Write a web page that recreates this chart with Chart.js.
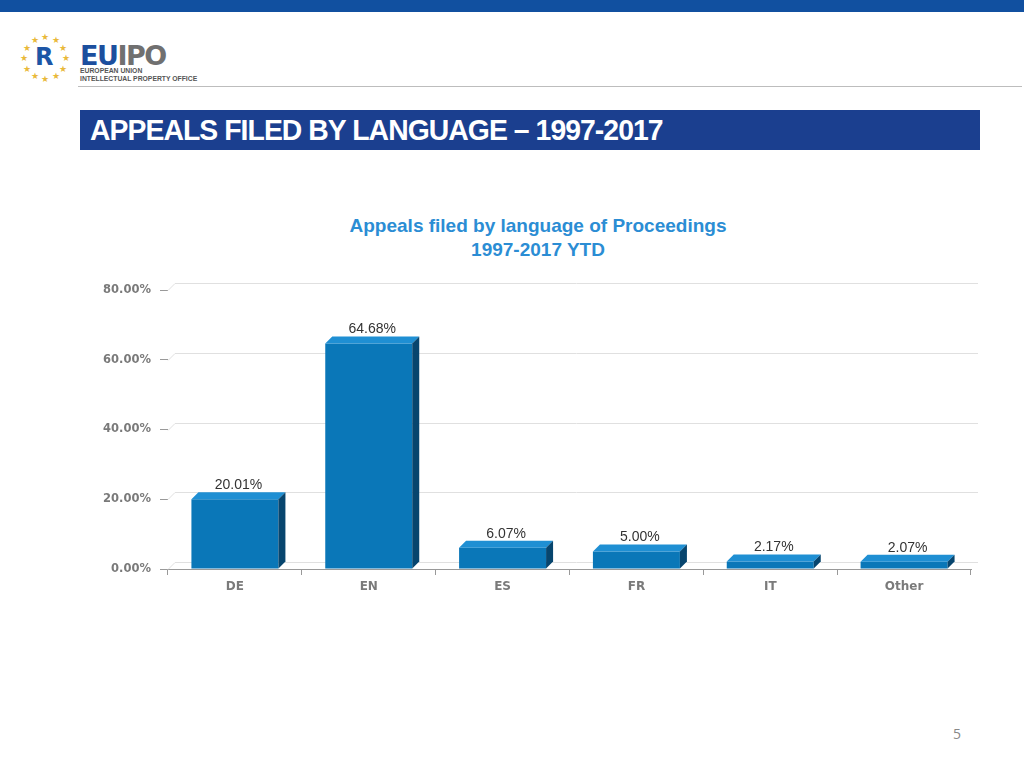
<!DOCTYPE html>
<html>
<head>
<meta charset="utf-8">
<script src="https://cdn.jsdelivr.net/npm/chart.js@4/dist/chart.umd.min.js"></script>
<style>
  body { margin: 0; width: 1024px; height: 768px; background: #fff; position: relative; overflow: hidden; font-family: "Liberation Sans", Arial, sans-serif; }
  #topband { position: absolute; left: 0; top: 0; width: 1024px; height: 12px; background: #1150a0; }
  #rule { position: absolute; left: 78px; top: 86px; width: 944px; height: 1px; background: #bdbdbd; }
  #stars { position: absolute; left: 20px; top: 33px; width: 50px; height: 50px; }
  #stars span { position: absolute; color: #e9b93a; font-size: 9px; line-height: 9px; }
  #rbox { position: absolute; left: 35px; top: 46px; width: 20px; height: 22px; color: #1d56a6; font: 900 24px/22px "DejaVu Sans", sans-serif; }
  #eu { position: absolute; left: 80px; top: 42px; font: 900 27px/28px "DejaVu Sans", sans-serif; letter-spacing: -1.5px; }
  #eu .b { color: #1c4f9e; } #eu .g { color: #707070; }
  #sub { position: absolute; left: 80px; top: 67px; font: bold 6.8px/7.5px "Liberation Sans", Arial, sans-serif; color: #555; }
  #titlebar { position: absolute; left: 80px; top: 110px; width: 900px; height: 40px; background: #1b3f8f; }
  #titlebar span { position: absolute; left: 10px; top: 2px; color: #fff; font: bold 30px/35px "Liberation Sans", Arial, sans-serif; letter-spacing: -1px; white-space: nowrap; transform: scaleX(0.945); transform-origin: left center; }
  #ctitle { position: absolute; left: 238px; top: 214px; width: 600px; text-align: center; color: #2b8dd4; font: bold 19px/24px "Liberation Sans", Arial, sans-serif; }
  #page { position: absolute; left: 953px; top: 724px; color: #888; font: 14px "Open Sans", sans-serif; }
  #chart { position: absolute; left: 80px; top: 270px; }
</style>
</head>
<body>
<div id="topband"></div>
<div id="stars"></div>
<div id="rbox">R</div>
<div id="eu"><span class="b">EU</span><span class="g">IPO</span></div>
<div id="sub">EUROPEAN UNION<br>INTELLECTUAL PROPERTY OFFICE</div>
<div id="rule"></div>
<div id="titlebar"><span>APPEALS FILED BY LANGUAGE – 1997-2017</span></div>
<div id="ctitle">Appeals filed by language of Proceedings<br>1997-2017 YTD</div>
<canvas id="chart" width="920" height="340"></canvas>
<div id="page">5</div>
<script>
const languages = ['DE', 'EN', 'ES', 'FR', 'IT', 'Other'];
const appealShares = [20.01, 64.68, 6.07, 5.00, 2.17, 2.07];
const yTicks = [0, 20, 40, 60, 80];

// logo star ring
const starBox = document.getElementById('stars');
for (let i = 0; i < 12; i++) {
    const a = i / 12 * Math.PI * 2;
    const s = document.createElement('span');
    s.textContent = '★';
    s.style.left = (21 + Math.cos(a) * 21) + 'px';
    s.style.top = (21 + Math.sin(a) * 21) + 'px';
    starBox.appendChild(s);
}

const DEPTH = 7;

const fakeThreeD = {
    id: 'fakeThreeD',
    beforeDatasetsDraw(chart) {
        const { ctx, chartArea, scales } = chart;
        ctx.save();
        ctx.strokeStyle = '#e0e0e0';
        ctx.lineWidth = 1;
        yTicks.forEach(v => {
            const y = Math.round(scales.y.getPixelForValue(v)) + 0.5;
            ctx.beginPath();
            ctx.moveTo(chartArea.left, y);
            ctx.lineTo(chartArea.left + DEPTH, y - DEPTH);
            ctx.lineTo(chartArea.right + DEPTH, y - DEPTH);
            ctx.stroke();
        });
        ctx.restore();
    },
    afterDatasetsDraw(chart) {
        const { ctx } = chart;
        const meta = chart.getDatasetMeta(0);
        ctx.save();
        meta.data.forEach((bar, i) => {
            const l = bar.x - bar.width / 2;
            const r = bar.x + bar.width / 2;
            const t = bar.y;
            const b = bar.base;
            // top face
            ctx.fillStyle = '#1f8fd3';
            ctx.beginPath();
            ctx.moveTo(l, t);
            ctx.lineTo(l + DEPTH, t - DEPTH);
            ctx.lineTo(r + DEPTH, t - DEPTH);
            ctx.lineTo(r, t);
            ctx.closePath();
            ctx.fill();
            // side face
            ctx.fillStyle = '#07456e';
            ctx.beginPath();
            ctx.moveTo(r, t);
            ctx.lineTo(r + DEPTH, t - DEPTH);
            ctx.lineTo(r + DEPTH, b - DEPTH);
            ctx.lineTo(r, b);
            ctx.closePath();
            ctx.fill();
            // value label
            ctx.fillStyle = '#333';
            ctx.font = '14px "Liberation Sans", Arial, sans-serif';
            ctx.textAlign = 'center';
            ctx.textBaseline = 'bottom';
            ctx.fillText(appealShares[i].toFixed(2) + '%', bar.x + DEPTH / 2, t - DEPTH);
        });
        ctx.restore();
    }
};

new Chart(document.getElementById('chart'), {
    type: 'bar',
    data: {
        labels: languages,
        datasets: [{
            data: appealShares,
            backgroundColor: '#0a77b8',
            borderWidth: 0,
            barPercentage: 0.65,
            categoryPercentage: 1
        }]
    },
    options: {
        responsive: false,
        animation: false,
        layout: { padding: { top: 20, right: 29, bottom: 11, left: 0 } },
        plugins: {
            legend: { display: false },
            tooltip: { enabled: false }
        },
        scales: {
            x: {
                afterFit: s => { s.height = 30; },
                border: { display: true, color: '#999', width: 1 },
                grid: { offset: true, drawOnChartArea: false, drawTicks: true, tickLength: 6, color: '#999' },
                ticks: { color: '#7a7a7a', padding: 5, font: { family: 'DejaVu Sans', weight: 'bold', size: 12 } }
            },
            y: {
                min: 0,
                max: 80,
                afterFit: s => { s.width = 88; },
                border: { display: false },
                grid: { drawOnChartArea: false, drawTicks: true, tickLength: 8, color: '#999' },
                ticks: {
                    stepSize: 20,
                    padding: 9,
                    color: '#7a7a7a',
                    font: { family: 'DejaVu Sans', weight: 'bold', size: 11.5 },
                    callback: v => v.toFixed(2) + '%'
                }
            }
        }
    },
    plugins: [fakeThreeD]
});
</script>
</body>
</html>
